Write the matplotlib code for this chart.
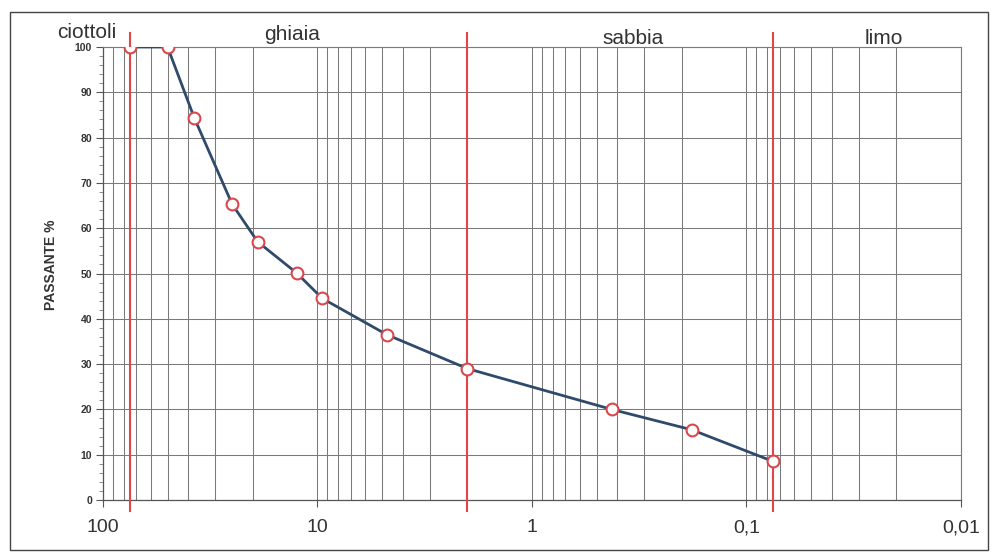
import matplotlib
matplotlib.use("Agg")
import matplotlib.pyplot as plt
from matplotlib.ticker import LogLocator, FixedLocator, MultipleLocator, NullFormatter
from matplotlib.patches import Rectangle

plt.rcParams['font.family'] = ['Liberation Sans', 'DejaVu Sans']

# Data: sieve opening (mm) vs. percent passing
diametri = [75, 50, 37.5, 25, 19, 12.5, 9.5, 4.75, 2, 0.425, 0.18, 0.075]
passante = [100, 100, 84.3, 65.3, 57.0, 50.1, 44.5, 36.5, 29.0, 20.0, 15.5, 8.5]

# Boundaries between soil classes (mm)
limiti = [75, 2, 0.075]
classi = ["ciottoli", "ghiaia", "sabbia", "limo"]
classi_px = [(87, 33), (292, 35), (633, 38), (884, 39)]

xtick_vals = [100, 10, 1, 0.1, 0.01]
xtick_labels = ["100", "10", "1", "0,1", "0,01"]
yticks = list(range(0, 101, 10))

W, H = 995, 560
fig = plt.figure(figsize=(W / 100, H / 100), dpi=100)
fig.patch.set_facecolor("white")
ax = fig.add_axes([103 / W, 1 - 500 / H, (961 - 103) / W, (500 - 47) / H])

ax.set_xscale("log")
ax.set_xlim(100, 0.01)
ax.set_ylim(0, 100)

grid_col = "#7a7a7a"
ax.xaxis.set_major_locator(FixedLocator(xtick_vals))
ax.set_xticklabels(xtick_labels, fontsize=14, color="#333333")
ax.xaxis.set_minor_locator(LogLocator(base=10, subs=range(2, 10), numticks=20))
ax.xaxis.set_minor_formatter(NullFormatter())
ax.tick_params(axis="x", which="major", length=5, width=0.8, color="#555555", pad=9)
ax.tick_params(axis="x", which="minor", length=0)

ax.set_yticks(yticks)
ax.yaxis.set_minor_locator(MultipleLocator(2))
for lab in ax.get_yticklabels():
    lab.set_fontweight("bold")
ax.tick_params(axis="y", which="major", length=5, width=0.8, color="#555555",
               labelsize=7.5, pad=3, labelcolor="#333333")
ax.tick_params(axis="y", which="minor", length=3, width=0.6, color="#777777")

ax.grid(which="major", axis="both", color=grid_col, linewidth=0.75)
ax.grid(which="minor", axis="x", color=grid_col, linewidth=0.75)
ax.set_axisbelow(True)

for side in ["top", "right"]:
    ax.spines[side].set_color(grid_col)
    ax.spines[side].set_linewidth(0.8)
for side in ["left", "bottom"]:
    ax.spines[side].set_color("#555555")
    ax.spines[side].set_linewidth(0.9)

ax.set_ylabel("PASSANTE %", fontsize=10, fontweight="bold", color="#333333", labelpad=6)
ax.yaxis.set_label_coords(-0.052, 0.52)

# class boundaries
for b in limiti:
    ax.plot([b, b], [-2.5, 103], color="#e0454a", linewidth=1.5, clip_on=False, zorder=3)

# curve
ax.plot(diametri, passante, color="#2f4a6b", linewidth=2.0, zorder=4)
ax.plot(diametri, passante, linestyle="none", marker="o", markersize=8.5,
        markerfacecolor="white", markeredgecolor="#d9484d", markeredgewidth=1.5,
        zorder=5)

for name, (px, py) in zip(classi, classi_px):
    fig.text(px / W, 1 - py / H, name, fontsize=15, color="#333333",
             ha="center", va="center")

# outer frame
fig.patches.append(Rectangle((10 / W, 1 - 550 / H), (988 - 10) / W, (550 - 12) / H,
                             transform=fig.transFigure, fill=False,
                             edgecolor="#444444", linewidth=1.0))

fig.savefig("out.png", dpi=100, facecolor="white")
